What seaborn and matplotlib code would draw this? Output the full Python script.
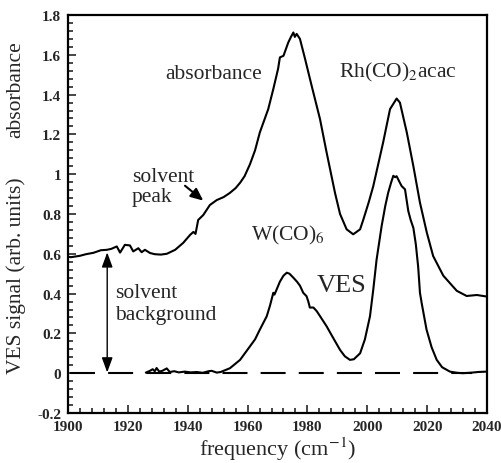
import matplotlib
matplotlib.use("Agg")
import matplotlib.pyplot as plt
from matplotlib.ticker import MultipleLocator
import seaborn as sns

# absorbance trace
freq_abs = [1900, 1901, 1904, 1906, 1908.5, 1911, 1913, 1914.5, 1916.3, 1917.4,
            1919, 1920.7, 1921.8, 1923.5, 1924.6, 1925.7, 1927.4, 1929, 1931, 1933,
            1935.8, 1938.5, 1940.8, 1941.9, 1942.6, 1943.5, 1945.2, 1947.4, 1949.7, 1952,
            1954, 1956, 1957.5, 1959, 1960.8, 1962.5, 1964.1, 1966.9, 1968.6, 1970.2,
            1970.8, 1972, 1973.6, 1974.5, 1975.3, 1975.8, 1976.4, 1977.5, 1979.2, 1981.4,
            1984.2, 1986.4, 1989.2, 1990.9, 1993.1, 1995.3, 1997.6, 1998.7, 2000.5, 2002,
            2005.3, 2007.6, 2009.8, 2010.9, 2013.2, 2015.4, 2017.6, 2019.9, 2022, 2025.4,
            2029.9, 2033.2, 2036.6, 2040]
absorbance = [0.585, 0.583, 0.59, 0.598, 0.605, 0.618, 0.62, 0.625, 0.637, 0.606,
              0.645, 0.642, 0.612, 0.628, 0.608, 0.62, 0.604, 0.598, 0.596, 0.6,
              0.62, 0.655, 0.695, 0.71, 0.70, 0.77, 0.795, 0.845, 0.87, 0.885,
              0.905, 0.93, 0.957, 0.99, 1.05, 1.12, 1.21, 1.327, 1.428, 1.53,
              1.587, 1.595, 1.662, 1.69, 1.712, 1.69, 1.705, 1.68, 1.58, 1.445,
              1.277, 1.11, 0.907, 0.80, 0.723, 0.698, 0.723, 0.773, 0.86, 0.94,
              1.16, 1.327, 1.38, 1.36, 1.21, 1.04, 0.857, 0.706, 0.589, 0.49,
              0.414, 0.388, 0.393, 0.385]

# VES trace
freq_ves = [1926, 1927.4, 1928.3, 1929, 1929.6, 1930.5, 1931.5, 1933, 1934, 1935.5,
            1937, 1939, 1941, 1943, 1945, 1947, 1948, 1949.7, 1951, 1954.1,
            1957.5, 1960.8, 1962.5, 1964.1, 1966.4, 1967.5, 1968.6, 1969, 1970.8, 1972,
            1973.1, 1974, 1975.3, 1976.5, 1977.5, 1978.6, 1979.7, 1980.3, 1980.8, 1982,
            1983.1, 1984.5, 1986.4, 1988.5, 1990.9, 1992.5, 1994.2, 1995.5, 1997.6, 1999.2,
            2000.9, 2002, 2003.1, 2004.8, 2006, 2007, 2008, 2008.7, 2009.3, 2009.8,
            2010.9, 2011.5, 2012.6, 2013.7, 2014.5, 2015.4, 2016.2, 2017, 2017.6, 2018.2,
            2019.8, 2021.5, 2023.2, 2025, 2027.6, 2030, 2032, 2035, 2037, 2040]
ves = [0.003, 0.012, 0.02, 0.01, 0.026, 0.008, 0.012, 0.024, 0.006, 0.01,
       0.004, 0.008, 0.004, 0.006, 0.002, 0.01, 0.012, 0.003, 0.006, 0.025,
       0.067, 0.135, 0.17, 0.219, 0.286, 0.34, 0.404, 0.395, 0.46, 0.49,
       0.505, 0.50, 0.48, 0.46, 0.44, 0.404, 0.387, 0.36, 0.33, 0.33,
       0.312, 0.28, 0.236, 0.18, 0.117, 0.085, 0.067, 0.07, 0.1, 0.17,
       0.286, 0.42, 0.57, 0.74, 0.84, 0.908, 0.96, 0.992, 0.985, 0.99,
       0.957, 0.94, 0.924, 0.815, 0.77, 0.73, 0.65, 0.535, 0.404, 0.35,
       0.219, 0.13, 0.067, 0.03, 0.008, 0.002, 0.0, 0.003, 0.006, 0.008]

xticks = [1900, 1920, 1940, 1960, 1980, 2000, 2020, 2040]
yticks = [-0.2, 0, 0.2, 0.4, 0.6, 0.8, 1.0, 1.2, 1.4, 1.6, 1.8]
ytick_labels = ["-0.2", "0", "0.2", "0.4", "0.6", "0.8", "1", "1.2", "1.4", "1.6", "1.8"]

sns.set_style("ticks")
plt.rcParams["font.family"] = ["Liberation Serif", "DejaVu Serif"]
plt.rcParams["mathtext.fontset"] = "stix"

fig = plt.figure(figsize=(5.02, 4.64), dpi=100)
ax = fig.add_axes([68 / 502, 1 - 414 / 464, 419 / 502, 398 / 464])

sns.lineplot(x=freq_abs, y=absorbance, ax=ax, color="black", linewidth=1.5,
             estimator=None, sort=False)
sns.lineplot(x=freq_ves, y=ves, ax=ax, color="black", linewidth=1.5,
             estimator=None, sort=False)
ax.axhline(0, xmin=0.005, xmax=(2035 - 1900) / 140, color="black",
           linewidth=1.5, dashes=(12, 6.3))

ax.set_xlim(1900, 2040)
ax.set_ylim(-0.2, 1.8)
ax.set_xticks(xticks)
ax.set_yticks(yticks, labels=ytick_labels)
ax.xaxis.set_minor_locator(MultipleLocator(4))
ax.yaxis.set_minor_locator(MultipleLocator(0.04))
ax.tick_params(which="both", direction="in", top=False, right=False,
               labelsize=11, width=1.2)
ax.tick_params(which="major", length=6, pad=5)
ax.tick_params(which="minor", length=3.5)
for lbl in ax.get_xticklabels() + ax.get_yticklabels():
    lbl.set_fontweight("bold")
for sp in ax.spines.values():
    sp.set_linewidth(1.6)
    sp.set_color("black")

ax.set_xlabel("frequency (cm$^{-1}$)", fontsize=16, labelpad=1)
ax.set_ylabel("")
fig.text(16 / 502, 1 - 90 / 464, "absorbance", rotation=90, fontsize=15.5,
         ha="center", va="center")
fig.text(16 / 502, 1 - 276 / 464, "VES signal (arb. units)", rotation=90,
         fontsize=15.5, ha="center", va="center")

# annotations
ax.text(1948.8, 1.482, "absorbance", fontsize=15.5, ha="center", va="baseline")
ax.text(2010.1, 1.49, "Rh(CO)$_2$acac", fontsize=15.5, ha="center", va="baseline")
ax.text(1973.4, 0.674, "W(CO)$_6$", fontsize=15.5, ha="center", va="baseline")
ax.text(1991.4, 0.413, "VES", fontsize=19, ha="center", va="baseline")
ax.text(1921.3, 0.967, "solvent", fontsize=15.5, ha="left", va="baseline")
ax.text(1921.3, 0.867, "peak", fontsize=15.5, ha="left", va="baseline")
ax.text(1915.7, 0.381, "solvent", fontsize=15.5, ha="left", va="baseline")
ax.text(1915.7, 0.272, "background", fontsize=15.5, ha="left", va="baseline")

ax.annotate("", xy=(1945.2, 0.867), xytext=(1939.1, 0.942),
            arrowprops=dict(arrowstyle="-|>,head_length=0.5,head_width=0.22",
                            color="black", lw=1.5, shrinkA=0, shrinkB=0,
                            mutation_scale=15))
ax.annotate("", xy=(1913.1, 0.004), xytext=(1913.1, 0.607),
            arrowprops=dict(arrowstyle="<|-|>,head_length=0.6,head_width=0.22",
                            color="black", lw=1.0, shrinkA=0, shrinkB=0,
                            mutation_scale=15))

fig.savefig("out.png", dpi=100)
